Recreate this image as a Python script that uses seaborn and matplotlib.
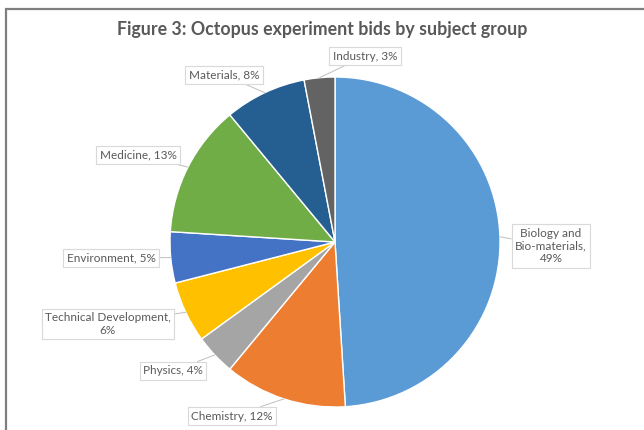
import matplotlib
matplotlib.use("Agg")
import matplotlib.pyplot as plt
import seaborn as sns
import numpy as np
from matplotlib.patches import Rectangle

sns.set_theme(style="white")
plt.rcParams['font.family'] = ['Lato', 'DejaVu Sans']

# Data
subjects = ["Biology and\nBio-materials", "Chemistry", "Physics", "Technical Development",
            "Environment", "Medicine", "Materials", "Industry"]
shares = [49, 12, 4, 6, 5, 13, 8, 3]
label_texts = ["Biology and\nBio-materials,\n49%", "Chemistry, 12%", "Physics, 4%",
               "Technical Development,\n6%", "Environment, 5%", "Medicine, 13%",
               "Materials, 8%", "Industry, 3%"]
colors = ["#5B9BD5", "#ED7D31", "#A5A5A5", "#FFC000",
          "#4472C4", "#70AD47", "#255E91", "#636363"]

W, H = 644, 430
fig = plt.figure(figsize=(W / 100, H / 100), dpi=100)
fig.patch.set_facecolor("white")
ax = fig.add_axes([0, 0, 1, 1])

cx, cy, r = 335, H - 242, 165
wedges, _ = ax.pie(shares, colors=colors, startangle=90, counterclock=False,
                   center=(cx, cy), radius=r, frame=True,
                   wedgeprops=dict(edgecolor="white", linewidth=1.0))
ax.set_xlim(0, W)
ax.set_ylim(0, H)
ax.set_aspect("equal")
ax.axis("off")

# label box positions (pixel coords, y from top)
label_pos = [(551, 246), (232, 416), (173, 371), (108, 324),
             (111, 258), (138, 155), (224, 75), (365, 56)]

for w, txt, (lx, ly) in zip(wedges, label_texts, label_pos):
    mid = np.deg2rad((w.theta1 + w.theta2) / 2)
    px, py = cx + r * np.cos(mid), cy + r * np.sin(mid)
    ax.annotate(txt, xy=(px, py), xytext=(lx, H - ly),
                ha="center", va="center", fontsize=8.5, color="#595959",
                multialignment="center", linespacing=1.2,
                bbox=dict(boxstyle="square,pad=0.3", fc="white", ec="#D9D9D9", lw=0.8),
                arrowprops=dict(arrowstyle="-", color="#BFBFBF", lw=0.7,
                                shrinkA=0, shrinkB=0))

ax.text(322, H - 30, "Figure 3: Octopus experiment bids by subject group",
        ha="center", va="center", fontsize=12.8, fontweight="bold", color="#595959")

# outer frame around the chart area
fig.patches.append(Rectangle((6 / W, -0.1), 1.2, 1.1 - 9 / H, transform=fig.transFigure,
                             fill=False, ec="#7F7F7F", lw=1.6))

fig.savefig("out.png", dpi=100, facecolor="white")
